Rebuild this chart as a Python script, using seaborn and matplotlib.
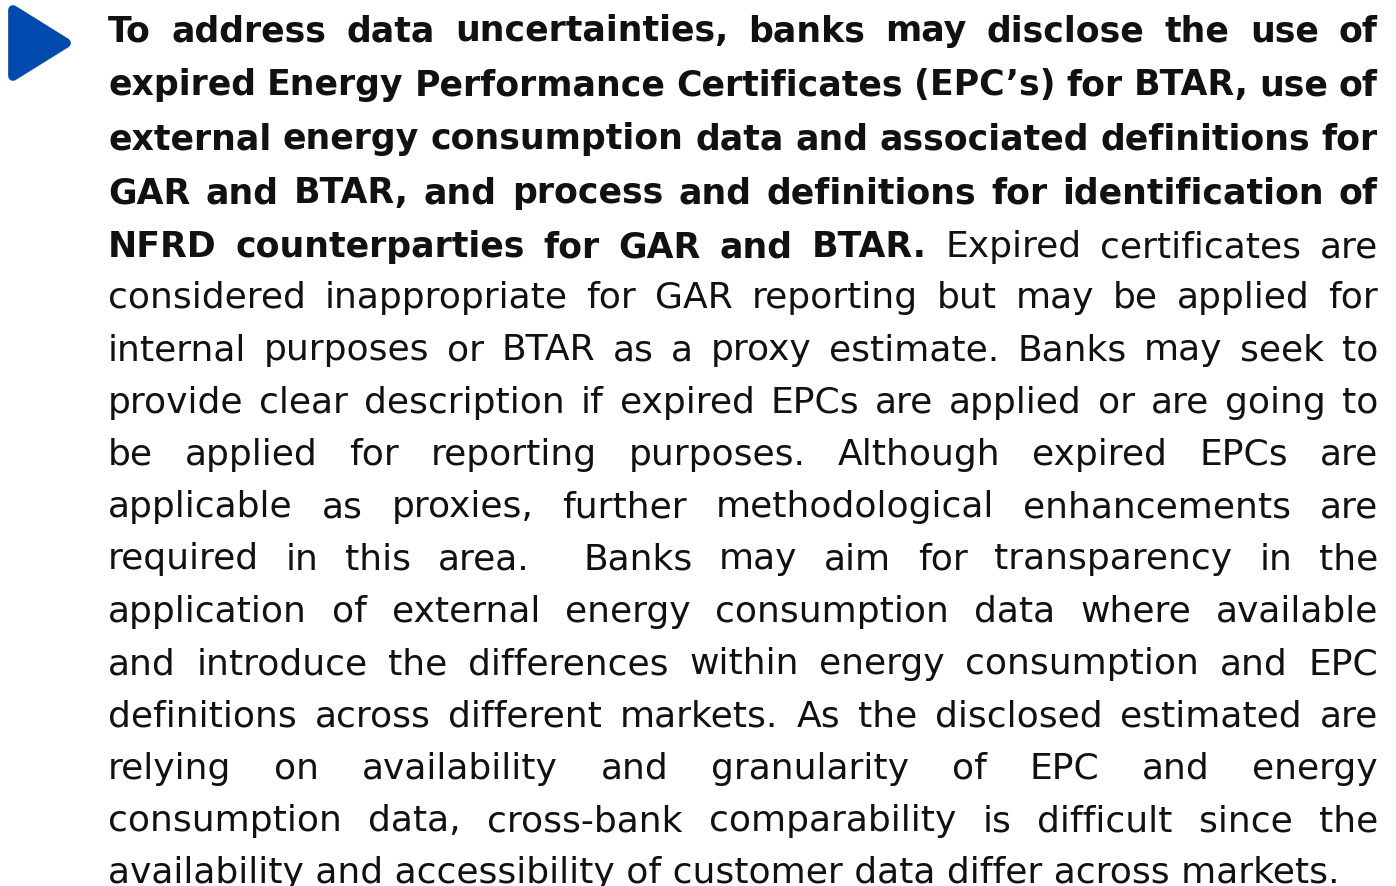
import matplotlib
matplotlib.use("Agg")
import matplotlib.pyplot as plt
from matplotlib.patches import Polygon
import seaborn as sns

sns.set_theme(style="white")
plt.rcParams["font.family"] = ["DejaVu Sans"]

# paragraph text, line by line as laid out in the reference
BOLD_LINES = [
    "To address data uncertainties, banks may disclose the use of",
    "expired Energy Performance Certificates (EPC’s) for BTAR, use of",
    "external energy consumption data and associated definitions for",
    "GAR and BTAR, and process and definitions for identification of",
]
MIXED_BOLD = "NFRD counterparties for GAR and BTAR."
MIXED_REGULAR = "Expired certificates are"
REGULAR_LINES = [
    "considered inappropriate for GAR reporting but may be applied for",
    "internal purposes or BTAR as a proxy estimate. Banks may seek to",
    "provide clear description if expired EPCs are applied or are going to",
    "be applied for reporting purposes. Although expired EPCs are",
    "applicable as proxies, further methodological enhancements are",
    "required in this area.  Banks may aim for transparency in the",
    "application of external energy consumption data where available",
    "and introduce the differences within energy consumption and EPC",
    "definitions across different markets. As the disclosed estimated are",
    "relying on availability and granularity of EPC and energy",
    "consumption data, cross-bank comparability is difficult since the",
]
LAST_LINE = "availability and accessibility of customer data differ across markets."

TEXT_COLOR = "#111111"
BLUE = "#024AAD"
SIZES = {"bold": 25, "normal": 26}
LEFT, RIGHT = 108, 1378


def draw_justified(ax, renderer, words, y):
    # words: list of (text, weight); an empty text keeps a double space
    texts = []
    for word, weight in words:
        t = ax.text(0, y, word, fontsize=SIZES[weight], fontweight=weight,
                    color=TEXT_COLOR, va="baseline", ha="left")
        texts.append(t)
    widths = [t.get_window_extent(renderer).width if t.get_text() else 0
              for t in texts]
    gap = (RIGHT - LEFT - sum(widths)) / (len(texts) - 1)
    x = LEFT
    for t, w in zip(texts, widths):
        t.set_x(x)
        x += w + gap


fig = plt.figure(figsize=(13.96, 8.86), dpi=100)
ax = fig.add_axes([0, 0, 1, 1])
ax.set_xlim(0, 1396)
ax.set_ylim(886, 0)
ax.axis("off")
renderer = fig.canvas.get_renderer()

# rounded play-style marker
tri = Polygon([(13, 10), (13, 76), (66, 43)], closed=True, facecolor=BLUE,
              edgecolor=BLUE, linewidth=7, joinstyle="round")
ax.add_patch(tri)

for i, line in enumerate(BOLD_LINES):
    words = [(w, "bold") for w in line.split(" ")]
    draw_justified(ax, renderer, words, 41 + 54 * i)

mixed = [(w, "bold") for w in MIXED_BOLD.split(" ")] + \
        [(w, "normal") for w in MIXED_REGULAR.split(" ")]
draw_justified(ax, renderer, mixed, 257)

for k, line in enumerate(REGULAR_LINES):
    words = [(w, "normal") for w in line.split(" ")]
    draw_justified(ax, renderer, words, 308 + 52.3 * k)

# last line is left aligned and runs off the bottom edge, as in the source
ax.text(LEFT, 308 + 52.3 * len(REGULAR_LINES), LAST_LINE,
        fontsize=SIZES["normal"], color=TEXT_COLOR, va="baseline", ha="left")

fig.savefig("out.png", dpi=100, facecolor="white")
